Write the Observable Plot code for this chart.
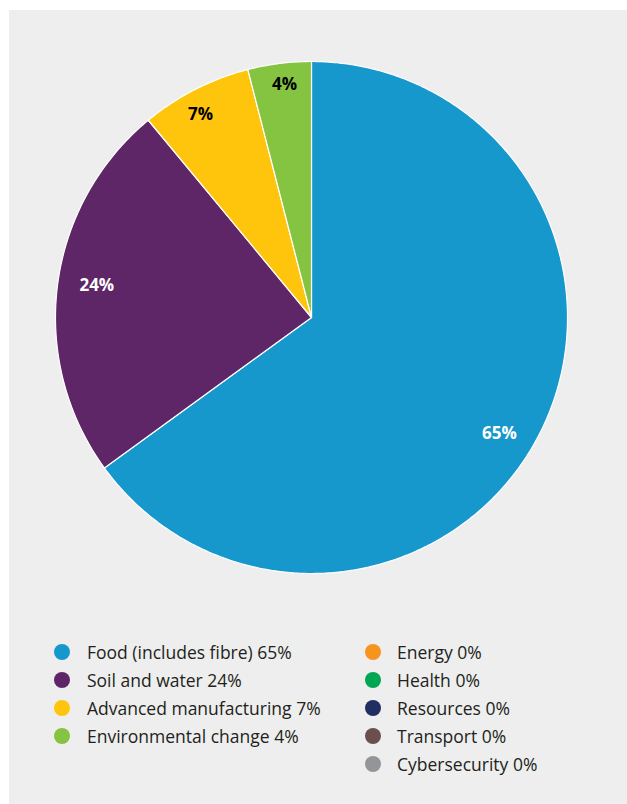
<!DOCTYPE html>
<html>
<head>
<meta charset="utf-8">
<script src="https://cdn.jsdelivr.net/npm/d3@7"></script>
<script src="https://cdn.jsdelivr.net/npm/@observablehq/plot@0.6"></script>
<style>
  html, body { margin: 0; padding: 0; background: #ffffff; }
  #panel { position: absolute; left: 9px; top: 10px; width: 618px; height: 794px; background: #edeeed; }
  #chart { position: absolute; left: 0; top: 0; }
  .leg { position: absolute; font-family: "Open Sans", sans-serif; font-size: 17.5px; color: #231f20; white-space: nowrap; line-height: 22px; }
  .dot { position: absolute; width: 16px; height: 16px; border-radius: 50%; }
</style>
</head>
<body>
<div id="panel">
  <div id="chart"></div>
  <div id="legend"></div>
</div>
<script>
const categories = ["Food (includes fibre)", "Soil and water", "Advanced manufacturing", "Environmental change", "Energy", "Health", "Resources", "Transport", "Cybersecurity"];
const values = [65, 24, 7, 4, 0, 0, 0, 0, 0];
const colors = ["#1798cc", "#5e2567", "#ffc50d", "#84c441", "#f7941d", "#00a651", "#1f2f62", "#6b4f4f", "#939598"];
const labelColors = ["#ffffff", "#ffffff", "#000000", "#000000", "#000000", "#000000", "#000000", "#000000", "#000000"];
const labelRadius = [0.863, 0.848, 0.902, 0.915, 0.9, 0.9, 0.9, 0.9, 0.9];
const labelAngleShift = [4.7, 1.3, -1.7, 0.6, 0, 0, 0, 0, 0];

const data = categories.map((c, i) => ({category: c, value: values[i], color: colors[i], labelColor: labelColors[i], lr: labelRadius[i], shift: labelAngleShift[i]}));

const arcs = d3.pie().sort(null).value(d => d.value)(data);

// polygon points in unit-circle data space
const polys = [];
arcs.forEach(a => {
  if (a.endAngle - a.startAngle <= 0) return;
  const n = Math.max(2, Math.ceil((a.endAngle - a.startAngle) / 0.01));
  polys.push({cat: a.data.category, x: 0, y: 0});
  for (let k = 0; k <= n; k++) {
    const t = a.startAngle + (a.endAngle - a.startAngle) * k / n;
    polys.push({cat: a.data.category, x: Math.sin(t), y: Math.cos(t)});
  }
  polys.push({cat: a.data.category, x: 0, y: 0});
});

const labels = arcs.filter(a => a.value > 0).map(a => {
  const m = (a.startAngle + a.endAngle) / 2 + a.data.shift * Math.PI / 180;
  return {x: a.data.lr * Math.sin(m), y: a.data.lr * Math.cos(m), text: a.value + "%", color: a.data.labelColor};
});

const cx = 302, cy = 307, R = 256;
const chart = Plot.plot({
  width: 618,
  height: 600,
  margin: 0,
  style: {background: "transparent"},
  x: {domain: [-1, 1], range: [cx - R, cx + R], axis: null},
  y: {domain: [-1, 1], range: [cy + R, cy - R], axis: null},
  color: {domain: categories, range: colors},
  marks: [
    Plot.line(polys, {x: "x", y: "y", z: "cat", fill: "cat", stroke: "#ffffff", strokeWidth: 1.2, curve: "linear"}),
    Plot.text(labels, {x: "x", y: "y", text: "text", fill: "color", fontSize: 17, fontWeight: "bold", fontFamily: "Open Sans, sans-serif"})
  ]
});
document.getElementById("chart").appendChild(chart);

// legend
const legend = document.getElementById("legend");
const colX = [[53, 78], [364, 388]];
const rowY0 = 642, rowDY = 28;
const leftCount = 4;
data.forEach((d, i) => {
  const col = i < leftCount ? 0 : 1;
  const row = i < leftCount ? i : i - leftCount;
  const yc = rowY0 + row * rowDY;
  const dot = document.createElement("div");
  dot.className = "dot";
  dot.style.left = (colX[col][0] - 8) + "px";
  dot.style.top = (yc - 8) + "px";
  dot.style.background = d.color;
  legend.appendChild(dot);
  const t = document.createElement("div");
  t.className = "leg";
  t.style.left = colX[col][1] + "px";
  t.style.top = (yc - 11) + "px";
  t.textContent = d.category + " " + d.value + "%";
  legend.appendChild(t);
});
</script>
</body>
</html>
